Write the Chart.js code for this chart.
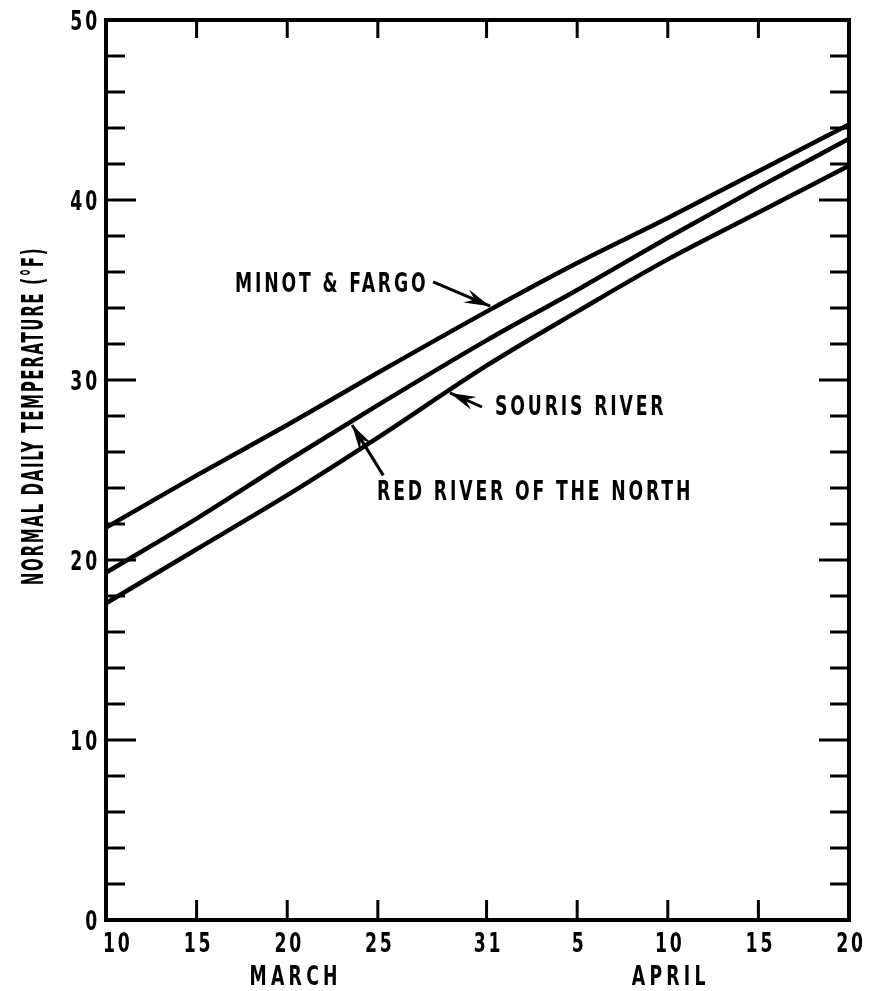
<!DOCTYPE html>
<html>
<head>
<meta charset="utf-8">
<script src="https://cdn.jsdelivr.net/npm/chart.js@4"></script>
<style>
  html, body { margin: 0; padding: 0; background: #fff; }
</style>
</head>
<body>
<canvas id="chart" width="887" height="991"></canvas>
<script>
// days counted from March 10
const days = [0, 5, 10, 15, 21, 26, 31, 36, 41];
const dayLabels = ['10', '15', '20', '25', '31', '5', '10', '15', '20'];

const minotFargo = [21.8, 24.7, 27.5, 30.4, 33.8, 36.5, 39.0, 41.6, 44.2];
const redRiver = [19.3, 22.3, 25.5, 28.6, 32.2, 35.0, 37.9, 40.7, 43.4];
const sourisRiver = [17.6, 20.6, 23.6, 26.8, 30.8, 33.8, 36.7, 39.3, 41.9];

const FONT = "'DejaVu Sans Condensed', 'Liberation Sans Narrow', sans-serif";
const SQUEEZE = 0.71; // the original lettering is very narrow

// callouts, in chart units (day, degrees)
const notes = [
  { text: 'MINOT & FARGO', at: [7.12, 34.9], from: [18.05, 35.45], tip: [21.2, 34.1] },
  { text: 'SOURIS RIVER', at: [21.47, 28.06], from: [20.75, 28.5], tip: [18.98, 29.28] },
  { text: 'RED RIVER OF THE NORTH', at: [14.96, 23.33], from: [15.3, 24.7], tip: [13.58, 27.5] },
];

const months = [
  { text: 'MARCH', day: 10.3 },
  { text: 'APRIL', day: 31 },
];

const toPoints = (vals) => vals.map((v, i) => ({ x: days[i], y: v }));

const line = (ctx, x1, y1, x2, y2) => {
  ctx.beginPath();
  ctx.moveTo(x1, y1);
  ctx.lineTo(x2, y2);
  ctx.stroke();
};

const squeezed = (ctx, text, x, y, align, sx) => {
  ctx.save();
  ctx.translate(x, y);
  ctx.scale(sx, 1);
  ctx.textAlign = align;
  ctx.fillText(text, 0, 0);
  ctx.restore();
};

const arrowHead = (ctx, x1, y1, x2, y2) => {
  const ang = Math.atan2(y2 - y1, x2 - x1);
  const len = 26, half = 7;
  ctx.save();
  ctx.translate(x2, y2);
  ctx.rotate(ang);
  ctx.beginPath();
  ctx.moveTo(0, 0);
  ctx.lineTo(-len, -half);
  ctx.lineTo(-len * 0.65, 0);
  ctx.lineTo(-len, half);
  ctx.closePath();
  ctx.fill();
  ctx.restore();
};

const frame = {
  id: 'frame',
  afterDatasetsDraw(chart) {
    const { ctx, chartArea: a, scales: { x, y } } = chart;
    ctx.save();
    ctx.strokeStyle = '#000';
    ctx.fillStyle = '#000';
    ctx.lineWidth = 4;
    ctx.strokeRect(a.left, a.top, a.right - a.left, a.bottom - a.top);

    // inward tick marks on all four sides
    ctx.lineWidth = 3;
    y.ticks.forEach((t) => {
      if (t.value <= 0 || t.value >= 50) return;
      const py = y.getPixelForValue(t.value);
      const len = t.value % 10 === 0 ? 30 : 19;
      line(ctx, a.left, py, a.left + len, py);
      line(ctx, a.right, py, a.right - len, py);
    });
    x.ticks.forEach((t, i) => {
      if (i === 0 || i === x.ticks.length - 1) return;
      const px = x.getPixelForValue(t.value);
      line(ctx, px, a.bottom, px, a.bottom - 20);
      line(ctx, px, a.top, px, a.top + 18);
    });

    ctx.font = 'bold 27px ' + FONT;
    ctx.textBaseline = 'alphabetic';

    // tick labels
    ctx.letterSpacing = '4px';
    y.ticks.forEach((t) => {
      if (t.value % 10 !== 0) return;
      squeezed(ctx, String(t.value), a.left - 6, y.getPixelForValue(t.value) + 10, 'right', SQUEEZE);
    });
    x.ticks.forEach((t, i) => {
      const px = x.getPixelForValue(t.value);
      if (i === 0) {
        squeezed(ctx, dayLabels[i], px - 3, a.bottom + 32, 'left', SQUEEZE);
      } else {
        squeezed(ctx, dayLabels[i], px + 2, a.bottom + 32, 'center', SQUEEZE);
      }
    });

    // month names under the day ticks
    ctx.letterSpacing = '6px';
    months.forEach((m) => {
      squeezed(ctx, m.text, x.getPixelForValue(m.day) + 3, a.bottom + 65, 'center', SQUEEZE);
    });

    // callouts
    ctx.letterSpacing = '4px';
    notes.forEach((n) => {
      squeezed(ctx, n.text, x.getPixelForValue(n.at[0]), y.getPixelForValue(n.at[1]), 'left', SQUEEZE);
      const x1 = x.getPixelForValue(n.from[0]), y1 = y.getPixelForValue(n.from[1]);
      const x2 = x.getPixelForValue(n.tip[0]), y2 = y.getPixelForValue(n.tip[1]);
      line(ctx, x1, y1, x2, y2);
      arrowHead(ctx, x1, y1, x2, y2);
    });

    // y axis title
    ctx.font = 'bold 31px ' + FONT;
    ctx.letterSpacing = '3px';
    ctx.translate(a.left - 63, y.getPixelForValue(28.0));
    ctx.rotate(-Math.PI / 2);
    squeezed(ctx, 'NORMAL DAILY TEMPERATURE (°F)', 0, 0, 'center', 0.54);
    ctx.restore();
  },
};

const ctx = document.getElementById('chart').getContext('2d');

const series = (label, vals) => ({
  label,
  data: toPoints(vals),
  borderColor: '#000',
  borderWidth: 4.5,
  pointRadius: 0,
  tension: 0.3,
  cubicInterpolationMode: 'monotone',
  fill: false,
});

new Chart(ctx, {
  type: 'line',
  data: {
    datasets: [
      series('Minot & Fargo', minotFargo),
      series('Red River of the North', redRiver),
      series('Souris River', sourisRiver),
    ],
  },
  options: {
    responsive: false,
    animation: false,
    layout: { padding: { top: 20, right: 38, left: 0, bottom: 0 } },
    plugins: {
      legend: { display: false },
      tooltip: { enabled: false },
    },
    scales: {
      x: {
        type: 'linear',
        min: 0,
        max: 41,
        grid: { display: false, drawTicks: false },
        border: { display: false },
        afterBuildTicks: (scale) => {
          scale.ticks = days.map((v) => ({ value: v }));
        },
        afterFit: (scale) => { scale.height = 71; },
        ticks: { display: false },
      },
      y: {
        min: 0,
        max: 50,
        grid: { display: false, drawTicks: false },
        border: { display: false },
        afterFit: (scale) => { scale.width = 106; },
        ticks: { display: false, stepSize: 2 },
      },
    },
  },
  plugins: [frame],
});
</script>
</body>
</html>
